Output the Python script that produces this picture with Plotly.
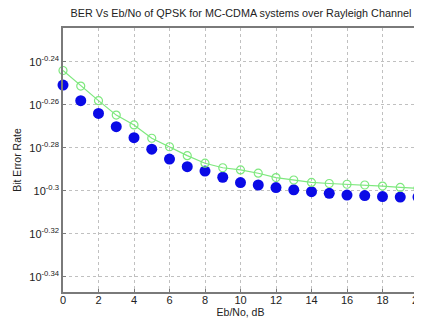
import plotly.graph_objects as go

ebno_db = list(range(0, 21))
ber_theory = [0.5702, 0.5608, 0.5521, 0.5436, 0.5379, 0.5303, 0.5255, 0.5205, 0.5163, 0.5138,
              0.5126, 0.5108, 0.5084, 0.5071, 0.5058, 0.5052, 0.5048, 0.5044, 0.5038, 0.5031, 0.5026]
ber_sim = [0.5614, 0.5521, 0.5446, 0.5369, 0.5306, 0.5241, 0.5186, 0.5144, 0.5120, 0.5086,
           0.5057, 0.5044, 0.5030, 0.5018, 0.5008, 0.4999, 0.4990, 0.4987, 0.4982, 0.4979, 0.4979]
y_tick_exps = [-0.24, -0.26, -0.28, -0.3, -0.32, -0.34]
y_tick_labels = ["10<sup>-0.24</sup>", "10<sup>-0.26</sup>", "10<sup>-0.28</sup>",
                 "10<sup>-0.3</sup>", "10<sup>-0.32</sup>", "10<sup>-0.34</sup>"]
x_ticks = list(range(0, 21, 2))

FONT = "Liberation Sans, Arial"

fig = go.Figure()
fig.add_trace(go.Scatter(
    x=ebno_db, y=ber_sim, mode="markers",
    marker=dict(symbol="circle", size=11, color="#0a0ae6", line=dict(width=0)),
    cliponaxis=False, showlegend=False))
fig.add_trace(go.Scatter(
    x=ebno_db, y=ber_theory, mode="lines+markers",
    line=dict(color="#7ee87e", width=1.2),
    marker=dict(symbol="circle-open", size=8, color="#7ee87e", line=dict(width=1.2)),
    cliponaxis=False, showlegend=False))

axis_common = dict(
    showline=True, linecolor="#7a7a7a", linewidth=1.5, mirror=True,
    ticks="inside", ticklen=3, tickcolor="#7a7a7a", automargin=False,
    showgrid=True, gridcolor="#c0c0c0", griddash="dot", gridwidth=1,
    zeroline=False, tickfont=dict(family=FONT, size=11, color="#222"),
)

fig.update_layout(
    width=422, height=323,
    margin=dict(l=55, r=12, t=20, b=39),
    paper_bgcolor="white", plot_bgcolor="white",
    title=dict(text="BER Vs Eb/No of QPSK for MC-CDMA systems over Rayleigh Channel",
               x=0.552, xanchor="center", y=0.984, yanchor="middle",
               font=dict(family=FONT, size=10.8, color="#222")),
    xaxis=dict(range=[0, 20], tickvals=x_ticks, ticklabelstandoff=-3,
               title=dict(text="Eb/No, dB", standoff=0,
                          font=dict(family=FONT, size=10.5, color="#222")),
               **axis_common),
    yaxis=dict(type="log", range=[-0.347, -0.2242],
               tickvals=[10 ** e for e in y_tick_exps], ticktext=y_tick_labels,
               title=dict(text="Bit Error Rate", standoff=6,
                          font=dict(family=FONT, size=10.5, color="#222")),
               **axis_common),
)

fig.write_html("out.html")
